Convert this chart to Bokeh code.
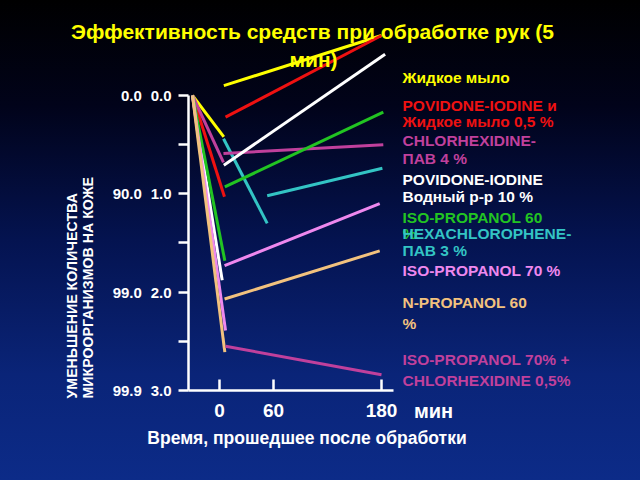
from bokeh.plotting import figure
from bokeh.models import Range1d, FixedTicker, Label, ColumnDataSource
from bokeh.core.properties import value
from bokeh.embed import file_html
from bokeh.resources import INLINE
import math

FONT = "Liberation Sans"

# ---------------- data ----------------
series_names = [
    "Жидкое мыло",
    "POVIDONE-IODINE и Жидкое мыло 0,5 %",
    "CHLORHEXIDINE-ПАВ 4 %",
    "POVIDONE-IODINE Водный р-р 10 %",
    "ISO-PROPANOL 60 %",
    "HEXACHLOROPHENE-ПАВ 3 %",
    "ISO-PROPANOL 70 %",
    "N-PROPANOL 60 %",
    "ISO-PROPANOL 70% + CHLORHEXIDINE 0,5%",
]
series_colors = ["#ffff00", "#ee1111", "#c0409c", "#ffffff", "#22c422",
                 "#33c4c4", "#ee88ee", "#f2c27e", "#c0409c"]

# fall during treatment (time in min, log reduction)
drop_series = [0, 1, 2, 3, 4, 5, 6, 7]
drop_t0 = [-30, -30, -30, -30, -30, 4.5, -30, -30]
drop_v0 = [0.0, 0.0, 0.0, 0.0, 0.0, 0.44, 0.0, 0.0]
drop_t1 = [4.8, 5.5, 4.4, 3.0, 5.9, 53, 6.7, 5.9]
drop_v1 = [0.42, 1.03, 0.68, 1.88, 1.68, 1.30, 2.39, 2.61]

# change after treatment
after_t0 = [4.8, 6.7, 4.4, 4.8, 5.9, 53, 5.6, 5.6, 6.7]
after_v0 = [-0.10, 0.22, 0.59, 0.71, 0.93, 1.02, 1.73, 2.07, 2.55]
after_t1 = [180, 180, 182, 184, 182, 181, 178, 178, 180]
after_v1 = [-0.61, -0.61, 0.50, -0.42, 0.17, 0.74, 1.10, 1.58, 2.84]

y_ticks = [0, 0.5, 1, 1.5, 2, 2.5, 3]
y_tick_labels = ["0.0\u2002\u200a0.0", "", "90.0\u2002\u200a1.0", "",
                 "99.0\u2002\u200a2.0", "", "99.9\u2002\u200a3.0"]
x_ticks = [0, 60, 180]
x_tick_labels = ["0", "60", "180"]

legend_lines = ["Жидкое мыло", "POVIDONE-IODINE и", "Жидкое мыло 0,5 %",
                "CHLORHEXIDINE-", "ПАВ 4 %", "POVIDONE-IODINE", "Водный р-р 10 %",
                "ISO-PROPANOL 60", "%", "HEXACHLOROPHENE-", "ПАВ 3 %",
                "ISO-PROPANOL 70 %", "N-PROPANOL 60", "%",
                "ISO-PROPANOL 70% +", "CHLORHEXIDINE 0,5%"]
legend_series = [0, 1, 1, 2, 2, 3, 3, 4, 4, 5, 5, 6, 7, 7, 8, 8]

title_line1 = "Эффективность средств при обработке рук (5"
title_line2 = "мин)"
x_title = "Время, прошедшее после обработки"
x_unit = "мин"
y_title1 = "УМЕНЬШЕНИЕ КОЛИЧЕСТВА"
y_title2 = "МИКРООРГАНИЗМОВ НА КОЖЕ"

# ---------------- layout helpers (pixel -> data) ----------------
X0_PX, PX_PER_MIN = 219.0, 0.9
Y0_PX, PX_PER_UNIT = 95.0, 98.33
def dx(px):
    return (px - X0_PX) / PX_PER_MIN
def dy(py):
    return (py - Y0_PX) / PX_PER_UNIT

legend_py = [77, 105, 121, 140, 158, 179, 196, 217, 233, 233, 250, 270, 302, 323, 359, 380]

p = figure(width=640, height=480, output_backend="svg", toolbar_location=None,
           x_range=Range1d(dx(0), dx(640)), y_range=Range1d(dy(480), dy(0)),
           min_border_left=0, min_border_right=0, min_border_top=0, min_border_bottom=0)
p.styles = {"background": "linear-gradient(180deg, #000000 0%, #01031a 22%, #041350 50%, #0a2478 78%, #0c2b88 100%)"}
p.background_fill_color = None
p.border_fill_color = None
p.outline_line_color = None
p.grid.visible = False

# axes (drawn at fixed positions inside the frame)
ya = p.yaxis[0]
ya.fixed_location = dx(188)
ya.bounds = (0, 3)
ya.ticker = FixedTicker(ticks=y_ticks, minor_ticks=[])
ya.major_label_overrides = {t: l for t, l in zip(y_ticks, y_tick_labels)}
ya.axis_line_color = "white"
ya.axis_line_width = 2.5
ya.major_tick_line_color = "white"
ya.major_tick_line_width = 2.5
ya.major_tick_out = 10
ya.major_tick_in = 0
ya.minor_tick_line_color = None
ya.major_label_standoff = 7
ya.major_label_text_color = "white"
ya.major_label_text_font = FONT
ya.major_label_text_font_style = "bold"
ya.major_label_text_font_size = "15px"

xa = p.xaxis[0]
xa.fixed_location = 3.0
xa.bounds = (dx(188), dx(393))
xa.ticker = FixedTicker(ticks=x_ticks, minor_ticks=[])
xa.major_label_overrides = {t: l for t, l in zip(x_ticks, x_tick_labels)}
xa.axis_line_color = "white"
xa.axis_line_width = 2.5
xa.major_tick_line_color = "white"
xa.major_tick_line_width = 2.5
xa.major_tick_in = 11
xa.major_tick_out = 0
xa.minor_tick_line_color = None
xa.major_label_standoff = 14
xa.major_label_text_color = "white"
xa.major_label_text_font = FONT
xa.major_label_text_font_style = "bold"
xa.major_label_text_font_size = "19px"

# lines
drop_src = ColumnDataSource(dict(
    x0=drop_t0, y0=drop_v0, x1=drop_t1, y1=drop_v1,
    c=[series_colors[i] for i in drop_series]))
p.segment("x0", "y0", "x1", "y1", source=drop_src, line_color="c", line_width=3)

after_src = ColumnDataSource(dict(
    x0=after_t0, y0=after_v0, x1=after_t1, y1=after_v1, c=series_colors))
p.segment("x0", "y0", "x1", "y1", source=after_src, line_color="c", line_width=3)

# legend texts
leg_src = ColumnDataSource(dict(
    x=[dx(402)] * len(legend_lines), y=[dy(v) for v in legend_py],
    t=legend_lines, c=[series_colors[i] for i in legend_series]))
p.text("x", "y", text="t", source=leg_src, text_color="c", text_font=value(FONT),
       text_font_style="bold", text_font_size="15.5px", text_align="left",
       text_baseline="middle")

def add_label(txt, px, py, size, color="white", align="center", angle=0.0,
              baseline="middle"):
    p.add_layout(Label(x=dx(px), y=dy(py), text=txt, text_color=color,
                       text_font=FONT, text_font_style="bold", text_font_size=size,
                       text_align=align, text_baseline=baseline, angle=angle))

add_label(title_line1, 312, 31, "21px", color="#ffff00")
add_label(title_line2, 313, 59, "21px", color="#ffff00")
add_label(x_unit, 433, 410, "20px")
add_label(x_title, 306.5, 437, "17.5px")
add_label(y_title1, 71, 398, "14.2px", align="left", angle=math.pi / 2)
add_label(y_title2, 87, 398, "14.2px", align="left", angle=math.pi / 2)

open("out.html", "w").write(file_html(p, INLINE))
